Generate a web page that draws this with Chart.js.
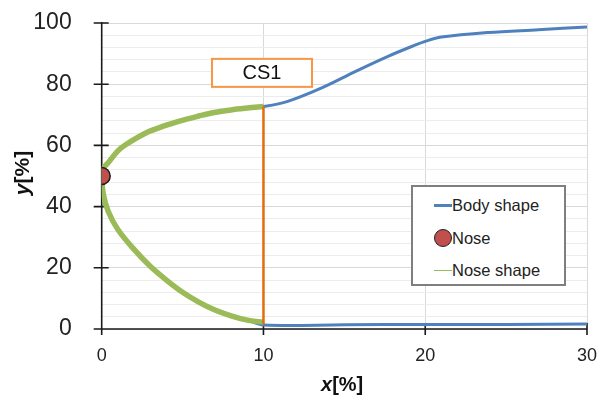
<!DOCTYPE html>
<html><head><meta charset="utf-8">
<script src="https://cdn.jsdelivr.net/npm/chart.js@4.4.1/dist/chart.umd.min.js"></script>
<style>
html,body{margin:0;padding:0;background:#fff;}
#wrap{position:relative;width:598px;height:398px;font-family:"Liberation Sans",Arial,sans-serif;}
canvas{position:absolute;left:0;top:0;}
.ttl{position:absolute;font-weight:bold;font-size:20px;color:#111;white-space:nowrap;line-height:24px;}
#legend{position:absolute;left:411px;top:185px;width:155px;height:101px;border:2px solid #7f7f7f;background:#fff;box-sizing:border-box;font-size:16.5px;color:#222;}
.li{position:absolute;left:21px;height:22px;display:flex;align-items:center;white-space:nowrap;}
.ln{display:inline-block;width:18px;height:0;}
.dot{display:inline-block;width:18px;height:18px;border-radius:50%;background:#c0504d;border:1.5px solid #222;box-sizing:border-box;}
</style></head>
<body><div id="wrap">
<canvas id="c" width="598" height="398"></canvas>
<div class="ttl" style="left:321px;top:372px;"><i>x</i>[%]</div>
<div class="ttl" style="left:-3px;top:161px;width:50px;text-align:center;transform:rotate(-90deg);transform-origin:center;font-size:21px;"><i>y</i>[%]</div>
<div id="legend">
 <div class="li" style="top:7px"><span class="ln" style="border-top:3px solid #4f81bd"></span><span>Body shape</span></div>
 <div class="li" style="top:40px"><span class="dot"></span><span>Nose</span></div>
 <div class="li" style="top:72px"><span class="ln" style="border-top:1.5px solid #9bbb59"></span><span>Nose shape</span></div>
</div>
</div>
<script>
// Body shape contour (lower edge from x=30 back to the nose, then upper edge out to x=30)
const bodyX = [30, 25, 20, 15, 10, 9, 8, 7, 6, 5, 4, 3, 2, 1, 0.4, 0.1, 0, 0.1, 0.4, 1, 1.5, 2.7, 4, 4.7, 6, 6.8, 8, 9, 10, 11.5, 13.6, 15.7, 17.7, 19.2, 20, 21, 23.9, 27, 30];
const bodyY = [1.6, 1.5, 1.5, 1.4, 1.3, 2.9, 4.3, 6.2, 8.8, 12, 16, 20.5, 26, 32.5, 38.5, 44, 50, 52.5, 54.3, 58.2, 60.3, 64, 66.6, 67.8, 69.6, 70.6, 71.6, 72.2, 72.7, 74.4, 78.8, 84.2, 89.1, 92.4, 94.0, 95.4, 96.9, 97.8, 98.7];
// Nose shape
const noseShapeX = [10, 9, 8, 7, 6, 5, 4, 3, 2, 1, 0.4, 0.1, 0, 0.1, 0.4, 1, 1.5, 2.7, 4, 4.7, 6, 6.8, 8, 9, 10];
const noseShapeY = [2.2, 2.9, 4.3, 6.2, 8.8, 12, 16, 20.5, 26, 32.5, 38.5, 44, 50, 52.5, 54.3, 58.2, 60.3, 64, 66.6, 67.8, 69.6, 70.6, 71.6, 72.2, 72.7];
// Nose point
const noseX = [0];
const noseY = [50];
// CS1 cross-section line
const csX = [10, 10];
const csY = [1.5, 72.7];
const csLabel = "CS1";
const xTicks = [0, 10, 20, 30];
const yMajor = [0, 20, 40, 60, 80, 100];

const pts = (xs, ys) => xs.map((x, i) => ({x, y: ys[i]}));

const deco = {
  id: 'deco',
  beforeDatasetsDraw(chart) {
    const {ctx, scales: {x, y}, chartArea: a} = chart;
    ctx.save();
    ctx.strokeStyle = '#1a1a1a';
    ctx.lineWidth = 1.6;
    ctx.beginPath();
    ctx.moveTo(a.left, a.top - 1); ctx.lineTo(a.left, a.bottom);
    ctx.moveTo(a.left - 7, a.bottom); ctx.lineTo(a.right, a.bottom);
    yMajor.forEach(v => { const py = y.getPixelForValue(v); ctx.moveTo(a.left - 8, py); ctx.lineTo(a.left + 7, py); });
    xTicks.forEach(v => { const px = x.getPixelForValue(v); ctx.moveTo(px, a.bottom - 6); ctx.lineTo(px, a.bottom + 6); });
    ctx.stroke();
    ctx.restore();
  },
  afterDatasetsDraw(chart) {
    const {ctx, scales: {x, y}} = chart;
    ctx.save();
    const cx = x.getPixelForValue(9.91), cy = y.getPixelForValue(83.7);
    ctx.fillStyle = '#fff';
    ctx.strokeStyle = '#f79646';
    ctx.lineWidth = 2;
    ctx.fillRect(cx - 50, cy - 14, 100, 28);
    ctx.strokeRect(cx - 50, cy - 14, 100, 28);
    ctx.fillStyle = '#111';
    ctx.font = '20px "Liberation Sans", Arial';
    ctx.textAlign = 'center';
    ctx.textBaseline = 'middle';
    ctx.fillText(csLabel, cx, cy + 1);
    ctx.restore();
  }
};

new Chart(document.getElementById('c'), {
  type: 'scatter',
  data: {
    datasets: [
      {label: 'Body shape', data: pts(bodyX, bodyY), showLine: true, borderColor: '#4f81bd', borderWidth: 3, pointRadius: 0, tension: 0.35, order: 4},
      {label: 'Nose shape', data: pts(noseShapeX, noseShapeY), showLine: true, borderColor: '#9bbb59', borderWidth: 5.5, pointRadius: 0, tension: 0.35, order: 3},
      {label: 'CS1', data: pts(csX, csY), showLine: true, borderColor: '#e46c0a', borderWidth: 2.5, pointRadius: 0, order: 2},
      {label: 'Nose', data: pts(noseX, noseY), pointRadius: 8.5, pointBackgroundColor: '#c0504d', pointBorderColor: '#1a1a1a', pointBorderWidth: 1.5, order: 1}
    ]
  },
  options: {
    responsive: false, animation: false,
    layout: {padding: {left: 0, right: 0, top: 23, bottom: 0}},
    plugins: {legend: {display: false}, tooltip: {enabled: false}},
    scales: {
      x: {
        type: 'linear', min: 0, max: 30,
        ticks: {stepSize: 10, autoSkip: false, maxRotation: 0, color: '#222', font: {size: 18, family: '"Liberation Sans", Arial'}, padding: 16},
        grid: {color: c => c.tick && c.tick.value === 0 ? 'rgba(0,0,0,0)' : '#d9d9d9', drawTicks: false, lineWidth: 1},
        border: {display: false},
        afterFit: s => { s.height = 69; s.paddingLeft = 0; s.paddingRight = 11; }
      },
      y: {
        type: 'linear', min: 0, max: 100,
        ticks: {stepSize: 4, autoSkip: false, color: '#222', font: {size: 23, family: '"Liberation Sans", Arial'}, padding: 30,
          callback: v => (v % 20 === 0 ? v : '')},
        grid: {color: c => (c.tick && c.tick.value % 20 === 0) ? '#d9d9d9' : '#ececec', drawTicks: false, lineWidth: 1},
        border: {display: false},
        afterFit: s => { s.width = 101.7; s.paddingTop = 0; s.paddingBottom = 0; }
      }
    }
  },
  plugins: [deco]
});
</script>
</body></html>
